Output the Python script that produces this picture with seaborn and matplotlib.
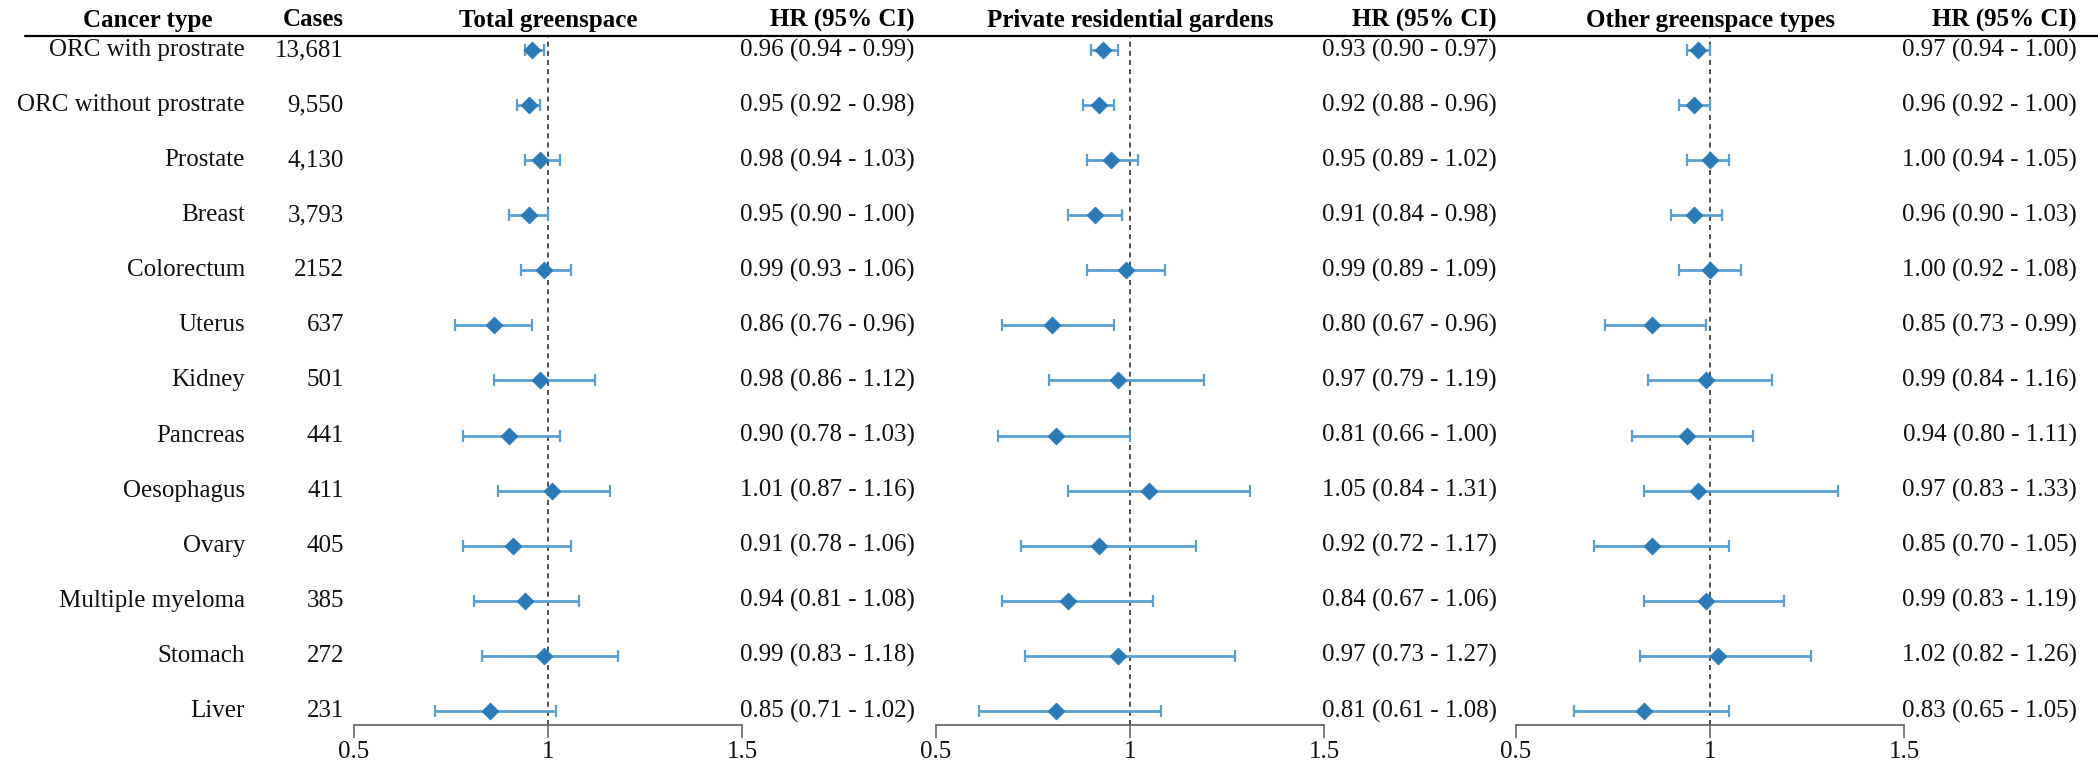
import numpy as np
import matplotlib
matplotlib.use("Agg")
import matplotlib.pyplot as plt
import matplotlib.transforms as mtransforms
from matplotlib.lines import Line2D
import seaborn as sns

# ---------------- data ----------------
cancer_types = ["ORC with prostrate", "ORC without prostrate", "Prostate", "Breast",
                "Colorectum", "Uterus", "Kidney", "Pancreas", "Oesophagus", "Ovary",
                "Multiple myeloma", "Stomach", "Liver"]
cases = ["13,681", "9,550", "4,130", "3,793", "2152", "637", "501", "441", "411",
         "405", "385", "272", "231"]

total_hr = [0.96, 0.95, 0.98, 0.95, 0.99, 0.86, 0.98, 0.90, 1.01, 0.91, 0.94, 0.99, 0.85]
total_lo = [0.94, 0.92, 0.94, 0.90, 0.93, 0.76, 0.86, 0.78, 0.87, 0.78, 0.81, 0.83, 0.71]
total_hi = [0.99, 0.98, 1.03, 1.00, 1.06, 0.96, 1.12, 1.03, 1.16, 1.06, 1.08, 1.18, 1.02]

private_hr = [0.93, 0.92, 0.95, 0.91, 0.99, 0.80, 0.97, 0.81, 1.05, 0.92, 0.84, 0.97, 0.81]
private_lo = [0.90, 0.88, 0.89, 0.84, 0.89, 0.67, 0.79, 0.66, 0.84, 0.72, 0.67, 0.73, 0.61]
private_hi = [0.97, 0.96, 1.02, 0.98, 1.09, 0.96, 1.19, 1.00, 1.31, 1.17, 1.06, 1.27, 1.08]

other_hr = [0.97, 0.96, 1.00, 0.96, 1.00, 0.85, 0.99, 0.94, 0.97, 0.85, 0.99, 1.02, 0.83]
other_lo = [0.94, 0.92, 0.94, 0.90, 0.92, 0.73, 0.84, 0.80, 0.83, 0.70, 0.83, 0.82, 0.65]
other_hi = [1.00, 1.00, 1.05, 1.03, 1.08, 0.99, 1.16, 1.11, 1.33, 1.05, 1.19, 1.26, 1.05]

panel_titles = ["Total greenspace", "Private residential gardens", "Other greenspace types"]
x_ticks = [0.5, 1, 1.5]
x_ticklabels = ["0.5", "1", "1.5"]

# ---------------- style ----------------
sns.set_theme(style="white")
plt.rcParams['font.family'] = ['Liberation Serif', 'DejaVu Serif']
FS = 18
MARK_COLOR = "#2a7ab8"
ERR_COLOR = "#5a9fd4"
AX_COLOR = "#6a6a6a"

W, H = 2098, 769
fig = plt.figure(figsize=(W / 100, H / 100), dpi=100)

def fx(px):
    return px / W

def fy(py):
    return 1 - py / H

n = len(cancer_types)
rows = np.arange(n)
row0_px, row_step_px = 50.0, 55.08
top_px, axis_px = 36.0, 725.0
ylim = ((axis_px - row0_px) / row_step_px, (top_px - row0_px) / row_step_px)

panels = [
    (total_hr, total_lo, total_hi),
    (private_hr, private_lo, private_hi),
    (other_hr, other_lo, other_hi),
]
one_px = [548, 1130, 1710]   # pixel position of HR = 1 per panel
unit_px = 388                # pixels per HR unit
hr_right_off = 367           # right edge of HR text relative to HR=1

axes = []
for k, (hr, lo, hi) in enumerate(panels):
    left = one_px[k] - 0.5 * unit_px
    ax = fig.add_axes([fx(left), fy(axis_px), fx(unit_px), (axis_px - top_px) / H])
    hr_a, lo_a, hi_a = np.array(hr), np.array(lo), np.array(hi)
    ax.axvline(1, color="#333333", lw=1.2, ls=(0, (3, 2.5)), zorder=1)
    ax.errorbar(hr_a, rows, xerr=[hr_a - lo_a, hi_a - hr_a], fmt="none",
                ecolor=ERR_COLOR, elinewidth=2.0, capsize=4, capthick=1.6, zorder=2)
    sns.scatterplot(x=hr_a, y=rows, marker="D", s=75, color=MARK_COLOR,
                    edgecolor=MARK_COLOR, linewidth=0.5, ax=ax, zorder=3, legend=False)
    ax.set_ylim(*ylim)
    ax.set_xlim(0.5, 1.5)
    for s in ["left", "top", "right"]:
        ax.spines[s].set_visible(False)
    ax.spines["bottom"].set_color(AX_COLOR)
    ax.spines["bottom"].set_linewidth(1.3)
    ax.spines["bottom"].set_bounds(0.5, 1.5)
    ax.set_yticks([])
    ax.set_xticks(x_ticks)
    ax.set_xticklabels(x_ticklabels, fontsize=FS)
    ax.tick_params(axis="x", direction="out", length=9.5, width=1.2,
                   color=AX_COLOR, pad=2, labelcolor="#111111", bottom=True)
    ax.set_xlabel("")
    ax.set_ylabel("")
    ax.patch.set_alpha(0)
    axes.append(ax)

    # HR text column
    tr = mtransforms.blended_transform_factory(fig.transFigure, ax.transData)
    for i in range(n):
        fig.text(fx(one_px[k] + hr_right_off), rows[i],
                 f"{hr[i]:.2f} ({lo[i]:.2f} - {hi[i]:.2f})",
                 transform=tr, ha="right", va="center", fontsize=FS, color="#111111")
    # headers
    fig.text(fx(one_px[k]), fy(20), panel_titles[k], ha="center", va="center",
             fontsize=FS, fontweight="bold", color="black")
    fig.text(fx(one_px[k] + hr_right_off), fy(20), "HR (95% CI)", ha="right",
             va="center", fontsize=FS, fontweight="bold", color="black")

# left-hand columns
tr0 = mtransforms.blended_transform_factory(fig.transFigure, axes[0].transData)
for i in range(n):
    fig.text(fx(245), rows[i], cancer_types[i], transform=tr0, ha="right",
             va="center", fontsize=FS, color="#111111")
    fig.text(fx(344), rows[i], cases[i], transform=tr0, ha="right",
             va="center", fontsize=FS, color="#111111")
fig.text(fx(148), fy(20), "Cancer type", ha="center", va="center",
         fontsize=FS, fontweight="bold", color="black")
fig.text(fx(344), fy(20), "Cases", ha="right", va="center",
         fontsize=FS, fontweight="bold", color="black")

# header rule
fig.add_artist(Line2D([fx(25), 1.0], [fy(36), fy(36)], color="black", lw=1.6))

fig.savefig("out.png", dpi=100)
